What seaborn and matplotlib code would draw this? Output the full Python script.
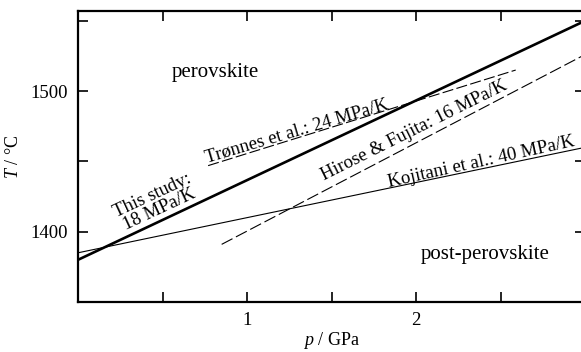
import matplotlib
matplotlib.use("Agg")
import matplotlib.pyplot as plt
import seaborn as sns
import pandas as pd

# phase boundary end points (p in GPa, T in degC)
this_study_p = [0.0, 3.0]
this_study_T = [1380, 1550]
kojitani_p = [0.0, 3.0]
kojitani_T = [1385, 1460]
hirose_p = [0.85, 3.0]
hirose_T = [1391, 1526]
tronnes_p = [0.77, 2.59]
tronnes_T = [1447, 1515]

x_ticks = [0.5, 1.0, 1.5, 2.0, 2.5]
x_labels = ["", "1", "", "2", ""]
y_ticks = [1400, 1450, 1500, 1550]
y_labels = ["1400", "", "1500", ""]

sns.set_theme(style="ticks")
plt.rcParams["font.family"] = ["Liberation Serif", "DejaVu Serif"]
plt.rcParams["mathtext.fontset"] = "custom"
plt.rcParams["mathtext.it"] = "Liberation Serif:italic"
plt.rcParams["mathtext.rm"] = "Liberation Serif"
plt.rcParams["text.color"] = "black"
plt.rcParams["axes.labelcolor"] = "black"

fig = plt.figure(figsize=(5.81, 3.52), dpi=100)
ax = fig.add_axes([78 / 581, 1 - 302 / 352, 507 / 581, 291 / 352])

def line_df(p, T):
    return pd.DataFrame({"p": p, "T": T})

sns.lineplot(data=line_df(kojitani_p, kojitani_T), x="p", y="T", ax=ax,
             color="black", linewidth=0.8)
sns.lineplot(data=line_df(hirose_p, hirose_T), x="p", y="T", ax=ax,
             color="black", linewidth=0.8, linestyle=(0, (11, 3.5)))
sns.lineplot(data=line_df(tronnes_p, tronnes_T), x="p", y="T", ax=ax,
             color="black", linewidth=0.8, linestyle=(0, (10, 3)))
sns.lineplot(data=line_df(this_study_p, this_study_T), x="p", y="T", ax=ax,
             color="black", linewidth=1.9)

ax.set_xlim(0, 3.0)
ax.set_ylim(1350, 1557)
ax.set_xticks(x_ticks)
ax.set_xticklabels(x_labels)
ax.set_yticks(y_ticks)
ax.set_yticklabels(y_labels)
ax.tick_params(direction="in", length=7, width=1.2, top=True, right=True,
               labelsize=13.5, colors="black", pad=7)
for s in ax.spines.values():
    s.set_linewidth(1.6)
    s.set_color("black")

ax.set_xlabel(r"$p$ / GPa", fontsize=13, labelpad=1)
ax.set_ylabel(r"$T$ / °C", fontsize=13, labelpad=6)

fs = 13.5
ax.text(0.81, 1513, "perovskite", fontsize=15, ha="center", va="center")
ax.text(2.41, 1384, "post-perovskite", fontsize=15, ha="center", va="center")
ax.text(0.50, 1410, "This study:\n18 MPa/K", fontsize=fs, ha="center",
        va="bottom", rotation=25, rotation_mode="anchor", linespacing=0.95,
        multialignment="center")
ax.text(1.30, 1468.5, "Trønnes et al.: 24 MPa/K", fontsize=fs, ha="center",
        va="baseline", rotation=16.5, rotation_mode="anchor")
ax.text(2.0, 1469, "Hirose & Fujita: 16 MPa/K", fontsize=fs, ha="center",
        va="baseline", rotation=26.5, rotation_mode="anchor")
ax.text(2.39, 1446.5, "Kojitani et al.: 40 MPa/K", fontsize=fs, ha="center",
        va="baseline", rotation=12.5, rotation_mode="anchor")

fig.savefig("out.png", dpi=100)
